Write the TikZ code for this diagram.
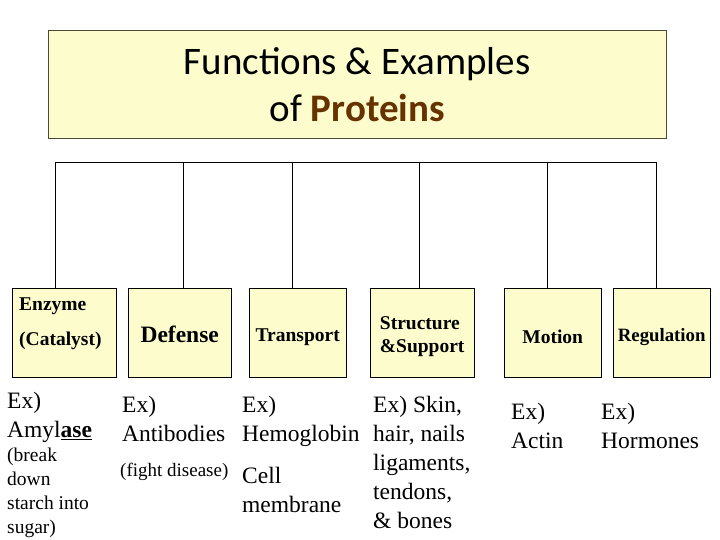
\documentclass[tikz,border=0pt]{standalone}
\usepackage{fontspec}
\setmainfont{Liberation Serif}
\newfontfamily\titlefont{Carlito}
\definecolor{boxfill}{HTML}{FCFCCC}
\definecolor{boxline}{HTML}{4A4A30}
\definecolor{prot}{HTML}{663300}
\begin{document}
\begin{tikzpicture}[x=1pt,y=-1pt,
  cat/.style={draw=black,fill=boxfill,minimum height=89pt,anchor=north west,inner sep=0pt},
  lab/.style={font=\bfseries\fontsize{19.5}{23}\selectfont,align=left,inner sep=0pt},
  ex/.style={font=\fontsize{23.5}{29}\selectfont,align=left,anchor=north west,inner sep=0pt},
  small/.style={font=\fontsize{19.5}{24}\selectfont}]
\useasboundingbox (0,0) rectangle (720,540);
\node[draw=boxline,fill=boxfill,minimum width=618pt,minimum height=108pt,anchor=north west,
  font=\titlefont\fontsize{39}{47}\selectfont,align=center] (title) at (48,30)
  {Functions \& Examples\\of {\bfseries\color{prot}Proteins}};
\node[cat,minimum width=104pt] (c1) at (12,288) {};
\node[cat,minimum width=103pt] (c2) at (128,288) {};
\node[cat,minimum width=97pt] (c3) at (249,288) {};
\node[cat,minimum width=104pt] (c4) at (370,288) {};
\node[cat,minimum width=97pt] (c5) at (504,288) {};
\node[cat,minimum width=97pt] (c6) at (613,288) {};
\coordinate (h1) at (55,162); \coordinate (h2) at (183,162); \coordinate (h3) at (292,162);
\coordinate (h4) at (419,162); \coordinate (h5) at (547,162); \coordinate (h6) at (656,162);
\draw (h1) -- (h6);
\foreach \i in {1,...,6} \draw (h\i) -- (h\i |- c\i.north);
\node[lab,anchor=north west,font=\bfseries\fontsize{19.5}{35}\selectfont] (l1) at (19,298) {Enzyme\\(Catalyst)};
\node[lab,font=\bfseries\fontsize{23.5}{26}\selectfont] (l2) at ([yshift=-2pt]c2.center) {Defense};
\node[lab] (l3) at ([yshift=-4pt]c3.center) {Transport};
\node[lab] (l4) at ([yshift=-4pt]c4.center) {Structure\\\&Support};
\node[lab] (l5) at ([yshift=-4pt]c5.center) {Motion};
\node[lab,font=\bfseries\fontsize{18.8}{23}\selectfont] (l6) at ([yshift=-4pt]c6.center) {Regulation};
\node[ex] (e1) at (7,392) {Ex)\\Amyl{\bfseries\underline{ase}}};
\node[ex,small] (e1b) at (7,448) {(break\\down\\starch into\\sugar)};
\node[ex] (e2) at (122,396) {Ex)\\Antibodies};
\node[ex,font=\fontsize{19}{24}\selectfont] (e2b) at (120,463) {(fight disease)};
\node[ex] (e3) at (242,396) {Ex)\\Hemoglobin};
\node[ex] (e3b) at (242,467) {Cell\\membrane};
\node[ex] (e4) at (373,396) {Ex) Skin,\\hair, nails\\ligaments,\\tendons,\\\& bones};
\node[ex] (e5) at (511,403) {Ex)\\Actin};
\node[ex] (e6) at (601,403) {Ex)\\Hormones};
\end{tikzpicture}
\end{document}
